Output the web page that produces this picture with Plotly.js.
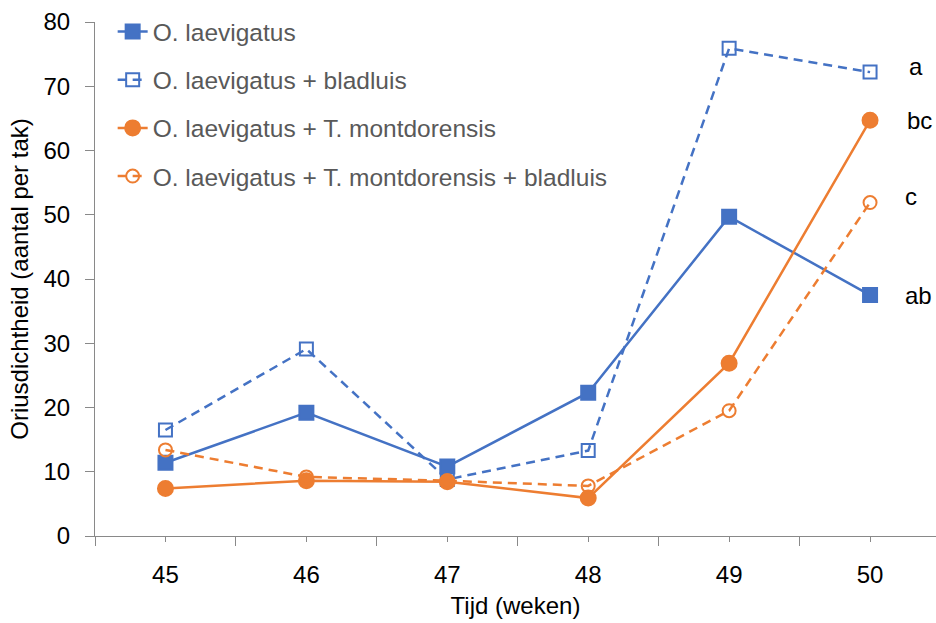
<!DOCTYPE html>
<html>
<head>
<meta charset="utf-8">
<script src="https://cdn.plot.ly/plotly-3.0.1.min.js"></script>
<style>
html,body{margin:0;padding:0;background:#fff;}
#chart{width:936px;height:623px;}
</style>
</head>
<body>
<div id="chart"></div>
<script>
// ---- data ----
const weeks = [45, 46, 47, 48, 49, 50];
const weekLabels = ['45', '46', '47', '48', '49', '50'];
const seriesNames = [
  'O. laevigatus',
  'O. laevigatus + bladluis',
  'O. laevigatus + T. montdorensis',
  'O. laevigatus + T. montdorensis + bladluis'
];
const oLaev = [11.4, 19.2, 10.8, 22.3, 49.7, 37.5];
const oLaevBlad = [16.5, 29.1, 8.8, 13.3, 75.9, 72.2];
const oLaevTmont = [7.4, 8.6, 8.45, 5.9, 26.9, 64.7];
const oLaevTmontBlad = [13.4, 9.2, 8.6, 7.8, 19.5, 51.9];
const letters = ['ab', 'a', 'bc', 'c'];

// ---- styling ----
const BLUE = '#4472C4', ORANGE = '#ED7D31', AX = '#898989';
const FONT = 'Liberation Sans, Arial, Helvetica, sans-serif';
const allSeries = [oLaev, oLaevBlad, oLaevTmont, oLaevTmontBlad];
const styles = [
  {color: BLUE, dash: 'solid', symbol: 'square', size: 14},
  {color: BLUE, dash: '9px,6px', symbol: 'square-open', size: 13},
  {color: ORANGE, dash: 'solid', symbol: 'circle', size: 15},
  {color: ORANGE, dash: '9px,6px', symbol: 'circle-open', size: 13}
];

const traces = allSeries.map((ys, i) => ({
  type: 'scatter',
  mode: 'lines+markers',
  x: weeks,
  y: ys,
  name: seriesNames[i],
  legendgroup: 'g' + i,
  line: {color: styles[i].color, width: 2.5, dash: styles[i].dash},
  marker: {
    symbol: styles[i].symbol,
    size: styles[i].size,
    color: styles[i].color,
    line: {color: styles[i].color, width: 2}
  },
  cliponaxis: false
}));

const last = weeks.length - 1;
const yShifts = [0, 6, 0, 6];
const xShifts = [33, 37, 35, 33];
const annotations = allSeries.map((ys, i) => ({
  x: weeks[last],
  y: ys[last],
  xref: 'x', yref: 'y',
  text: letters[i],
  showarrow: false,
  xanchor: 'left',
  yanchor: 'middle',
  xshift: xShifts[i],
  yshift: yShifts[i],
  font: {family: FONT, size: 24, color: '#000'}
}));

const minorTicks = [];
for (let i = 0; i <= weeks.length; i++) minorTicks.push(weeks[0] - 0.5 + i);

const layout = {
  width: 936,
  height: 623,
  paper_bgcolor: '#fff',
  plot_bgcolor: '#fff',
  margin: {l: 95, r: 0, t: 22, b: 87},
  font: {family: FONT, size: 24, color: '#000'},
  showlegend: true,
  legend: {
    x: 0.021, y: 1.025, xanchor: 'left', yanchor: 'top',
    bgcolor: 'rgba(0,0,0,0)',
    font: {family: FONT, size: 24.5, color: '#595959'},
    tracegroupgap: 13.3,
    traceorder: 'grouped',
    itemwidth: 30
  },
  xaxis: {
    range: [44.5, 50.468],
    tickmode: 'array',
    tickvals: weeks,
    ticktext: weekLabels,
    ticks: 'outside',
    ticklen: 5,
    tickwidth: 1,
    tickcolor: AX,
    ticklabelstandoff: 12,
    minor: {tickmode: 'array', tickvals: minorTicks, ticks: 'outside', ticklen: 9, tickwidth: 1, tickcolor: AX, showgrid: false},
    showline: true,
    linecolor: AX,
    linewidth: 1,
    showgrid: false,
    zeroline: false,
    tickfont: {family: FONT, size: 24, color: '#000'},
    title: {text: 'Tijd (weken)', font: {family: FONT, size: 24, color: '#000'}, standoff: 10}
  },
  yaxis: {
    range: [0, 80],
    tickmode: 'linear',
    tick0: 0,
    dtick: 10,
    ticks: 'outside',
    ticklen: 9,
    tickwidth: 1,
    tickcolor: AX,
    ticklabelstandoff: 10,
    showline: true,
    linecolor: AX,
    linewidth: 1,
    showgrid: false,
    zeroline: false,
    tickfont: {family: FONT, size: 24, color: '#000'},
    title: {text: 'Oriusdichtheid (aantal per tak)', font: {family: FONT, size: 24, color: '#000'}, standoff: 8}
  },
  annotations: annotations
};

Plotly.newPlot('chart', traces, layout, {staticPlot: true, displayModeBar: false});
</script>
</body>
</html>
